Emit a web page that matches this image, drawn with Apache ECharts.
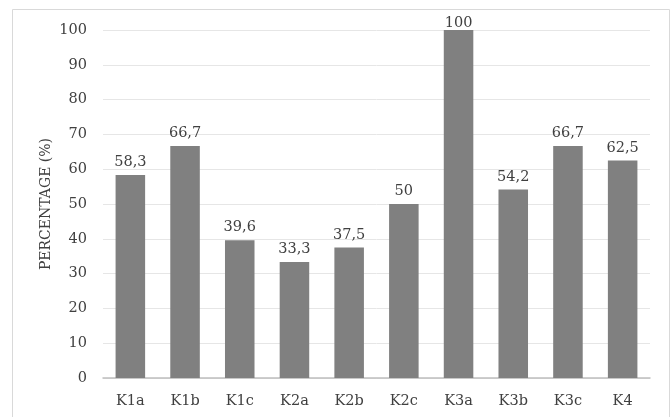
<!DOCTYPE html>
<html>
<head>
<meta charset="utf-8">
<script src="https://cdn.jsdelivr.net/npm/echarts@6/dist/echarts.min.js"></script>
<style>
  html, body { margin: 0; padding: 0; background: #fff; }
  #chart { width: 672px; height: 417px; }
</style>
</head>
<body>
<div id="chart"></div>
<script>
// 类别和数值
var categories = ['K1a', 'K1b', 'K1c', 'K2a', 'K2b', 'K2c', 'K3a', 'K3b', 'K3c', 'K4'];
var percentages = [58.3, 66.7, 39.6, 33.3, 37.5, 50, 100, 54.2, 66.7, 62.5];
var yTicks = [0, 10, 20, 30, 40, 50, 60, 70, 80, 90, 100];

var serif = '"DejaVu Serif", serif';
var myChart = echarts.init(document.getElementById('chart'));

// 100 的标签被压在绘图区内，离柱顶更近
var barData = percentages.map(function(v) {
    if (v >= 100) {
        return { value: v, label: { distance: -1 } };
    }
    return v;
});

var option = {
    animation: false,
    backgroundColor: '#fff',
    graphic: [{
        type: 'rect',
        shape: { x: 12.5, y: 9.5, width: 657, height: 420 },
        style: { fill: 'none', stroke: '#d9d9d9', lineWidth: 1 },
        silent: true
    }],
    grid: { left: 103, right: 22, top: 30, bottom: 39 },
    xAxis: {
        type: 'category',
        data: categories,
        axisTick: { show: false },
        axisLine: { lineStyle: { color: '#bfbfbf', width: 1.5 } },
        axisLabel: { color: '#404040', fontFamily: serif, fontSize: 14.5, margin: 16 }
    },
    yAxis: {
        type: 'value',
        min: yTicks[0],
        max: yTicks[yTicks.length - 1],
        interval: 10,
        name: 'PERCENTAGE (%)',
        nameLocation: 'middle',
        nameGap: 50,
        nameMoveOverlap: false,
        nameTextStyle: { color: '#404040', fontFamily: serif, fontSize: 14 },
        axisLine: { show: false },
        axisTick: { show: false },
        splitLine: { lineStyle: { color: '#e6e6e6', width: 1 } },
        axisLabel: { color: '#404040', fontFamily: serif, fontSize: 14.5, margin: 16 }
    },
    series: [{
        type: 'bar',
        data: barData,
        barWidth: '54%',
        itemStyle: { color: '#808080' },
        label: {
            show: true,
            position: 'top',
            distance: 5,
            color: '#404040',
            fontFamily: serif,
            fontSize: 14.5,
            formatter: function(p) {
                return String(p.value).replace('.', ',');
            }
        }
    }]
};
myChart.setOption(option);
</script>
</body>
</html>
